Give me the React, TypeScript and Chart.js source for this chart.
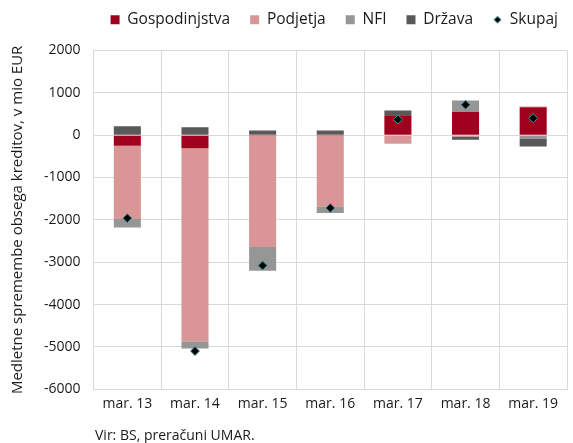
import React, { useEffect, useRef } from 'react';
import { Chart, registerables } from 'chart.js';

Chart.register(...registerables);

const categories = ['mar. 13', 'mar. 14', 'mar. 15', 'mar. 16', 'mar. 17', 'mar. 18', 'mar. 19'];
const gospodinjstva = [-250, -310, -10, -10, 470, 550, 660];
const podjetja = [-1730, -4560, -2630, -1670, -190, -30, 15];
const nfi = [-200, -170, -560, -160, -10, 270, -90];
const drzava = [210, 190, 110, 110, 110, -80, -180];
const skupaj = [-1960, -5100, -3080, -1720, 370, 720, 400];

const yMin = -6000;
const yMax = 2000;
const yStep = 1000;

const yTitle = 'Medletne spremembe obsega kreditov, v mio EUR';
const sourceText = 'Vir: BS, preračuni UMAR.';

const FONT = '"Open Sans", "Noto Sans", sans-serif';
const TEXT = '#1a1a1a';
const GRID = '#D9D9D9';

function makeDiamond(): HTMLCanvasElement {
  const c = document.createElement('canvas');
  c.width = 9;
  c.height = 9;
  const ctx = c.getContext('2d')!;
  ctx.beginPath();
  ctx.moveTo(4.5, 1);
  ctx.lineTo(8, 4.5);
  ctx.lineTo(4.5, 8);
  ctx.lineTo(1, 4.5);
  ctx.closePath();
  ctx.fillStyle = '#000';
  ctx.fill();
  ctx.strokeStyle = '#3b9ea3';
  ctx.lineWidth = 1;
  ctx.stroke();
  return c;
}

const legendShift = {
  id: 'legendShift',
  afterLayout(chart: any) {
    const lg = chart.legend;
    if (!lg) return;
    const ca = chart.chartArea;
    const target = (ca.left + ca.right) / 2 + 4;
    const dx = target - (lg.left + lg.right) / 2;
    lg.left += dx;
    lg.right += dx;
    lg.top -= 13;
    lg.bottom -= 13;
  },
};

export default function App() {
  const ref = useRef<HTMLCanvasElement | null>(null);

  useEffect(() => {
    if (!ref.current) return;
    const diamond = makeDiamond();
    const barBase = { type: 'bar' as const, stack: 's', order: 1, pointStyle: 'rect', borderWidth: 0 };
    const chart = new Chart(ref.current, {
      type: 'bar',
      plugins: [legendShift],
      data: {
        labels: categories,
        datasets: [
          { ...barBase, label: 'Gospodinjstva', data: gospodinjstva, backgroundColor: '#A0001E' },
          { ...barBase, label: 'Podjetja', data: podjetja, backgroundColor: '#DA9696' },
          { ...barBase, label: 'NFI', data: nfi, backgroundColor: '#969696' },
          { ...barBase, label: 'Država', data: drzava, backgroundColor: '#595959' },
          {
            type: 'line',
            label: 'Skupaj',
            data: skupaj,
            stack: 'line',
            order: 0,
            showLine: false,
            pointStyle: 'rectRot',
            pointRadius: 4.5,
            pointBackgroundColor: '#000',
            pointBorderColor: '#3b9ea3',
            pointBorderWidth: 1,
            backgroundColor: '#000',
            borderColor: '#3b9ea3',
          } as any,
        ],
      },
      options: {
        responsive: false,
        animation: false,
        layout: { padding: { left: 9, right: 6, top: 5, bottom: 25 } },
        datasets: { bar: { categoryPercentage: 1, barPercentage: 0.4 } },
        plugins: {
          tooltip: { enabled: false },
          legend: {
            position: 'top',
            labels: {
              usePointStyle: true,
              boxWidth: 9,
              boxHeight: 9,
              padding: 20,
              color: TEXT,
              font: { family: FONT, size: 15.5 },
              generateLabels: (c: any) => {
                const items = (Chart.defaults.plugins.legend.labels as any).generateLabels(c);
                return items.map((it: any) =>
                  it.text === 'Skupaj' ? { ...it, pointStyle: diamond } : { ...it, pointStyle: 'rect' }
                );
              },
              sort: (a: any, b: any) => a.datasetIndex - b.datasetIndex,
            },
          },
        },
        scales: {
          x: {
            stacked: true,
            grid: { color: GRID, offset: true, drawTicks: false },
            border: { color: GRID },
            ticks: { color: TEXT, font: { family: FONT, size: 14 }, padding: 6 },
          },
          y: {
            stacked: true,
            min: yMin,
            max: yMax,
            grid: { color: GRID, drawTicks: false },
            border: { color: GRID },
            ticks: {
              stepSize: yStep,
              color: TEXT,
              font: { family: FONT, size: 14 },
              padding: 13,
              callback: (v: any) => String(v),
            },
            title: {
              display: true,
              text: yTitle,
              color: TEXT,
              font: { family: FONT, size: 15 },
              padding: { top: 0, bottom: 4 },
            },
          },
        },
      } as any,
    });
    return () => chart.destroy();
  }, []);

  return (
    <div style={{ position: 'fixed', left: 0, top: 0, width: 573, height: 443, background: '#fff' }}>
      <canvas ref={ref} width={573} height={443} />
      <div
        style={{
          position: 'absolute',
          left: 95,
          top: 425,
          fontFamily: FONT,
          fontSize: 14,
          color: TEXT,
          lineHeight: '20px',
          whiteSpace: 'nowrap',
        }}
      >
        {sourceText}
      </div>
    </div>
  );
}
